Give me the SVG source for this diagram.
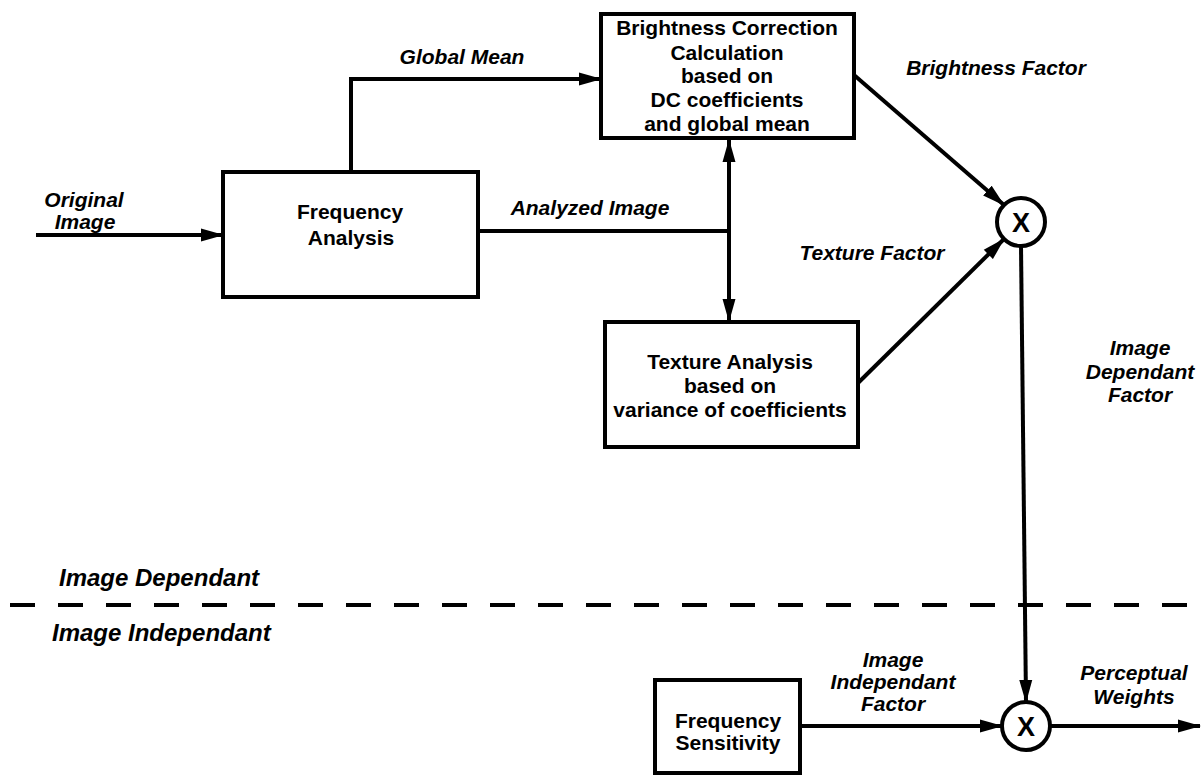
<svg xmlns="http://www.w3.org/2000/svg" width="1203" height="777" viewBox="0 0 1203 777">
<defs>
<marker id="ah" markerUnits="userSpaceOnUse" markerWidth="24" markerHeight="14" refX="22" refY="7" orient="auto-start-reverse" viewBox="0 0 24 14">
<path d="M0,0.5 L23,7 L0,13.5 z" fill="#000"/>
</marker>
<style>
.box{fill:#fff;stroke:#000;stroke-width:4}
.ln{fill:none;stroke:#000;stroke-width:4}
.bt{font-family:"Liberation Sans",Arial,sans-serif;font-weight:bold;font-size:21px;text-anchor:middle;fill:#000}
.lb{font-family:"Liberation Sans",Arial,sans-serif;font-weight:bold;font-style:italic;font-size:21px;text-anchor:middle;fill:#000}
.sec{font-family:"Liberation Sans",Arial,sans-serif;font-weight:bold;font-style:italic;font-size:24px;fill:#000}
.x{font-family:"Liberation Sans",Arial,sans-serif;font-weight:bold;font-size:27px;text-anchor:middle;fill:#000}
</style>
</defs>
<rect width="1203" height="777" fill="#fff"/>

<g id="connectors">
<path class="ln" d="M36,235 H223" marker-end="url(#ah)"/>
<path class="ln" d="M351,172 V79 H601" marker-end="url(#ah)"/>
<path class="ln" d="M478,231 H729"/>
<path class="ln" d="M729,140 V321" marker-start="url(#ah)" marker-end="url(#ah)"/>
<path class="ln" d="M854,75 L1004,205" stroke-width="4.5" marker-end="url(#ah)"/>
<path class="ln" d="M858,383 L1004,239" stroke-width="4.5" marker-end="url(#ah)"/>
<path class="ln" d="M1021,246 L1026,702" marker-end="url(#ah)"/>
<path class="ln" d="M800,726 H1002" marker-end="url(#ah)"/>
<path class="ln" d="M1050,726 H1200" marker-end="url(#ah)"/>
</g>

<g id="divider">
<line x1="10" y1="605" x2="1203" y2="605" stroke="#000" stroke-width="4" stroke-dasharray="25 23"/>
<text class="sec" x="59" y="586">Image Dependant</text>
<text class="sec" x="52" y="641">Image Independant</text>
</g>

<g id="labels">
<text class="lb" x="84" y="207">Original</text>
<text class="lb" x="85" y="229">Image</text>
<text class="lb" x="462" y="64">Global Mean</text>
<text class="lb" x="590" y="215">Analyzed Image</text>
<text class="lb" x="996" y="75">Brightness Factor</text>
<text class="lb" x="872" y="260">Texture Factor</text>
<text class="lb" x="1140" y="355">Image</text>
<text class="lb" x="1140" y="379">Dependant</text>
<text class="lb" x="1140" y="402">Factor</text>
<text class="lb" x="893" y="667">Image</text>
<text class="lb" x="893" y="689">Independant</text>
<text class="lb" x="893" y="711">Factor</text>
<text class="lb" x="1134" y="680">Perceptual</text>
<text class="lb" x="1134" y="704">Weights</text>
</g>

<g id="frequency-analysis">
<rect class="box" x="223" y="172" width="255" height="125"/>
<text class="bt" x="350" y="219" font-size="24">Frequency</text>
<text class="bt" x="351" y="245" font-size="24">Analysis</text>
</g>

<g id="brightness-correction">
<rect class="box" x="601" y="14" width="253" height="124"/>
<text class="bt" x="727" y="35">Brightness Correction</text>
<text class="bt" x="727" y="60">Calculation</text>
<text class="bt" x="727" y="83">based on</text>
<text class="bt" x="727" y="107">DC coefficients</text>
<text class="bt" x="727" y="131">and global mean</text>
</g>

<g id="texture-analysis">
<rect class="box" x="605" y="322" width="253" height="125"/>
<text class="bt" x="730" y="369">Texture Analysis</text>
<text class="bt" x="730" y="393">based on</text>
<text class="bt" x="730" y="417">variance of coefficients</text>
</g>

<g id="multiply-1">
<circle cx="1021" cy="222" r="24" fill="#fff" stroke="#000" stroke-width="4"/>
<text class="x" x="1021" y="232">X</text>
</g>

<g id="frequency-sensitivity">
<rect class="box" x="655" y="680" width="145" height="93"/>
<text class="bt" x="728" y="728">Frequency</text>
<text class="bt" x="728" y="750">Sensitivity</text>
</g>

<g id="multiply-2">
<circle cx="1026" cy="726" r="24" fill="#fff" stroke="#000" stroke-width="4"/>
<text class="x" x="1026" y="736">X</text>
</g>
</svg>
